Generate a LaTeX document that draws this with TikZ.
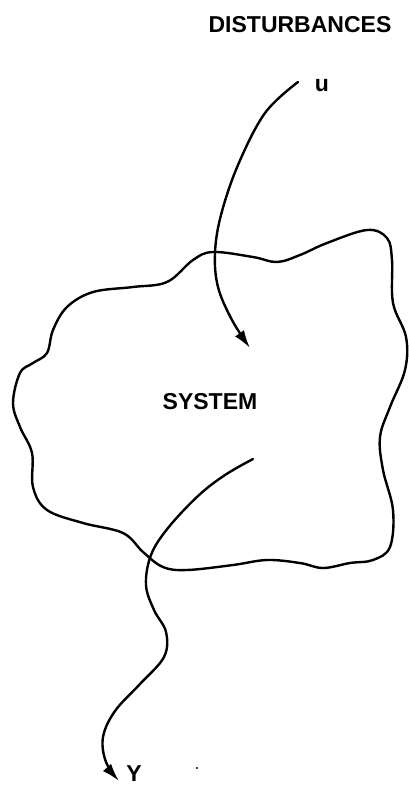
\documentclass[tikz,border=0pt]{standalone}
\usepackage{fontspec}
\setmainfont{Liberation Sans}
\usetikzlibrary{arrows.meta}
\begin{document}
\begin{tikzpicture}[x=1pt,y=-1pt,
  curve/.style={line width=2.4pt,line cap=round,line join=round},
  arrowcurve/.style={curve,-{Latex[length=18pt,width=11pt]}},
  lbl/.style={inner sep=0pt,font=\bfseries\fontsize{23}{23}\selectfont}]
\useasboundingbox (0,0) rectangle (408,788);
% system boundary
\draw[curve] plot[smooth cycle,tension=0.6] coordinates {
 (213,252) (253,257) (277,262) (300,255) (327,243) (367,230) (387,238)
 (392,260) (393,303) (406,337) (405,370) (390,407) (380,437) (383,470)
 (393,510) (390,547) (373,560) (350,563) (323,568) (300,563) (267,560)
 (233,565) (187,570) (163,567) (143,552) (123,533) (83,523) (47,510)
 (33,487) (32,453) (20,427) (13,403) (20,373) (33,363) (47,353)
 (53,330) (67,307) (93,292) (133,287) (167,282) (193,260)};
% labels
\node[lbl] (dist) at (300,25) {DISTURBANCES};
\node[lbl] (u) at (322,86) {u};
\node[lbl] (sys) at (210,402) {SYSTEM};
\node[lbl] (y) at (134,774) {Y};
% arrow ends
\coordinate (uin) at (298,82);
\coordinate (uend) at (250,348);
\coordinate (yout) at (253,459);
\coordinate (yend) at (119,781);
% input arrow
\draw[arrowcurve] plot[smooth,tension=0.6] coordinates {
 (uin) (265,113) (238,165) (221,215) (215,253) (218,287) (232,320) (uend)};
% output arrow
\draw[arrowcurve] plot[smooth,tension=0.6] coordinates {
 (yout) (225,475) (198,496) (168,528) (151,555) (146,585) (154,610)
 (166,632) (164,657) (140,684) (115,711) (103,737) (106,762) (yend)};
% stray dot
\fill (197,768) circle (1.2pt);
\end{tikzpicture}
\end{document}
